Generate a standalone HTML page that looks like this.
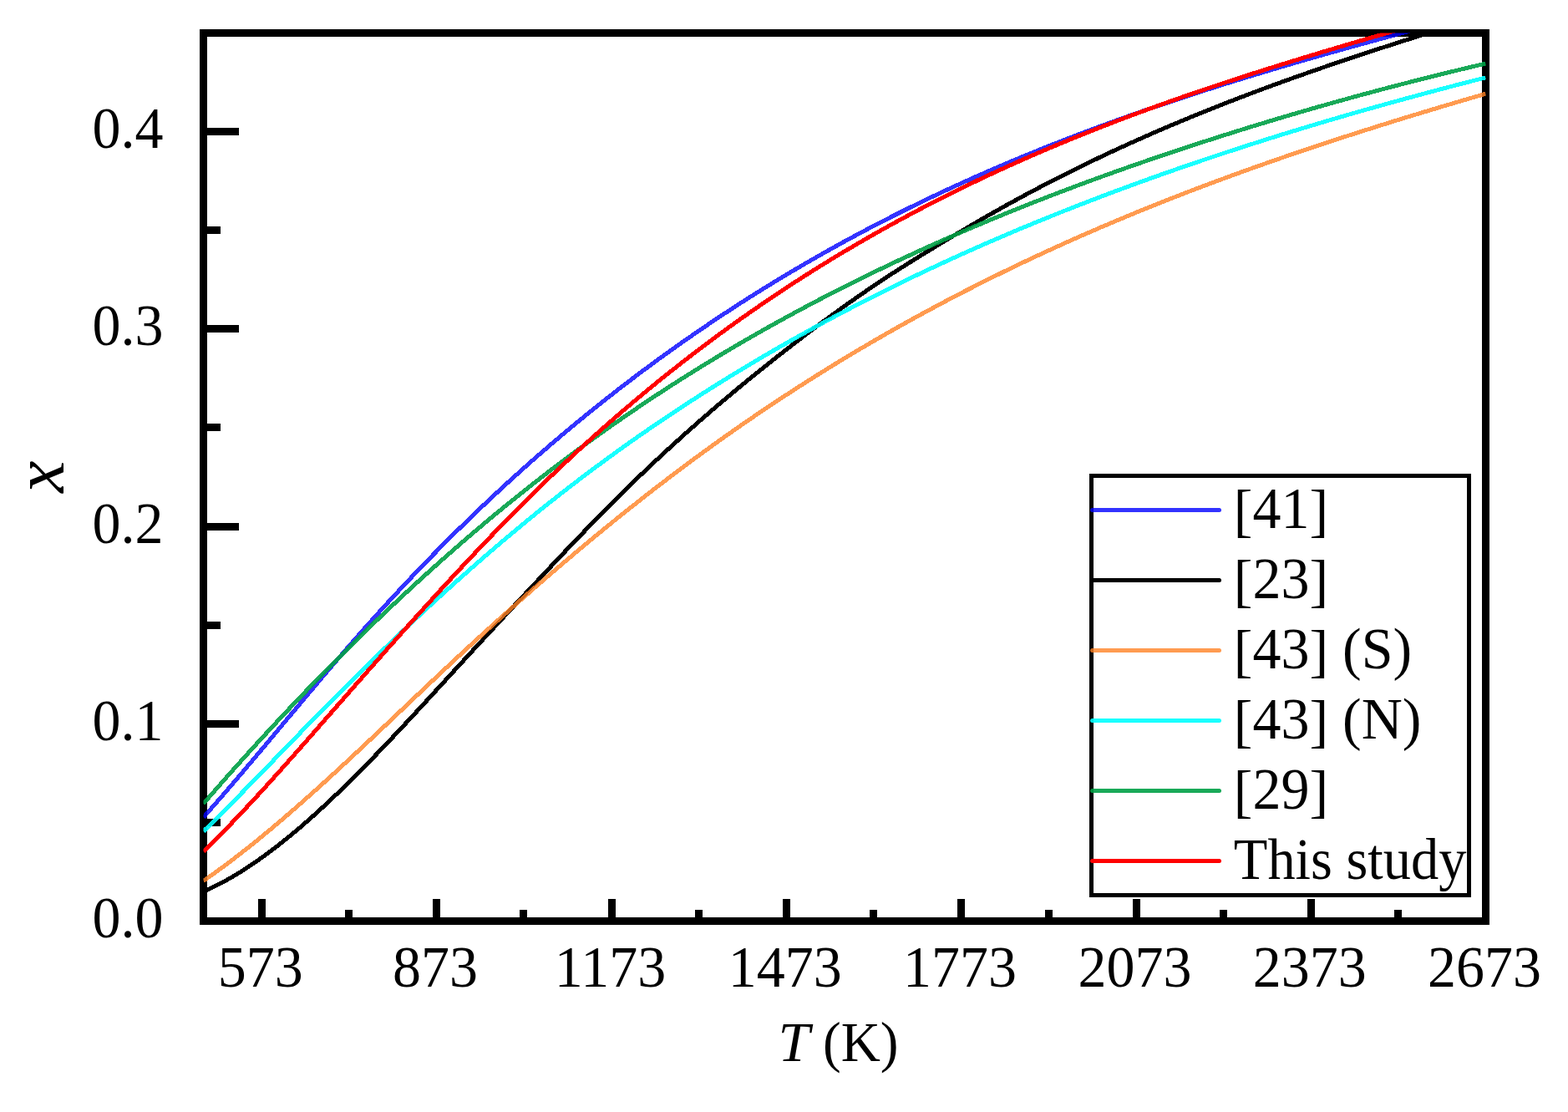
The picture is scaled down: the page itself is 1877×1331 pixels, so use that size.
<!DOCTYPE html>
<html><head><meta charset="utf-8"><title>x vs T</title>
<style>
html,body{margin:0;padding:0;background:#fff;}
svg{display:block;}
text{font-family:"Liberation Serif","Times New Roman",serif;font-size:68px;fill:#000;}
</style></head>
<body>
<svg width="1877" height="1331" viewBox="0 0 1877 1331">
<defs><clipPath id="pc"><rect x="243.5" y="39.5" width="1535.0" height="1063.0"/></clipPath></defs>
<rect x="0" y="0" width="1877" height="1331" fill="#fff"/>
<g id="axes">
<rect x="243.5" y="39.5" width="1535.0" height="1063.0" fill="none" stroke="#000" stroke-width="9"/>
<g fill="#000">
<rect x="309" y="1076" width="9" height="24"/>
<rect x="518" y="1076" width="9" height="24"/>
<rect x="413" y="1089" width="9" height="11"/>
<rect x="728" y="1076" width="9" height="24"/>
<rect x="622" y="1089" width="9" height="11"/>
<rect x="937" y="1076" width="9" height="24"/>
<rect x="832" y="1089" width="9" height="11"/>
<rect x="1146" y="1076" width="9" height="24"/>
<rect x="1041" y="1089" width="9" height="11"/>
<rect x="1356" y="1076" width="9" height="24"/>
<rect x="1251" y="1089" width="9" height="11"/>
<rect x="1565" y="1076" width="9" height="24"/>
<rect x="1460" y="1089" width="9" height="11"/>
<rect x="1669" y="1089" width="9" height="11"/>
<rect x="246" y="980" width="18" height="9"/>
<rect x="246" y="862" width="40" height="9"/>
<rect x="246" y="744" width="18" height="9"/>
<rect x="246" y="626" width="40" height="9"/>
<rect x="246" y="507" width="18" height="9"/>
<rect x="246" y="389" width="40" height="9"/>
<rect x="246" y="271" width="18" height="9"/>
<rect x="246" y="153" width="40" height="9"/>
</g>
</g>
<g clip-path="url(#pc)" fill="none" stroke-width="5" stroke-linejoin="round" stroke-linecap="butt" shape-rendering="crispEdges">
<path d="M243.50,978.33 C248.83,972.33 254.17,966.26 259.50,960.14 C264.83,954.03 270.17,947.86 275.50,941.65 C280.83,935.44 286.17,929.19 291.50,922.90 C296.83,916.62 302.17,910.30 307.50,903.97 C312.83,897.63 318.17,891.28 323.50,884.91 C328.83,878.54 334.17,872.17 339.50,865.79 C344.83,859.41 350.17,853.03 355.50,846.66 C360.83,840.29 366.17,833.94 371.50,827.60 C376.83,821.26 382.17,814.94 387.50,808.65 C392.83,802.36 398.17,796.10 403.50,789.89 C408.83,783.67 414.17,777.49 419.50,771.36 C424.83,765.24 430.17,759.16 435.50,753.15 C440.83,747.13 446.17,741.17 451.50,735.27 C456.83,729.37 462.17,723.52 467.50,717.73 C472.83,711.94 478.17,706.20 483.50,700.52 C488.83,694.84 494.17,689.22 499.50,683.65 C504.83,678.08 510.17,672.56 515.50,667.09 C520.83,661.63 526.17,656.22 531.50,650.86 C536.83,645.50 542.17,640.19 547.50,634.94 C552.83,629.69 558.17,624.48 563.50,619.33 C568.83,614.18 574.17,609.08 579.50,604.02 C584.83,598.97 590.17,593.97 595.50,589.02 C600.83,584.07 606.17,579.16 611.50,574.31 C616.83,569.45 622.17,564.65 627.50,559.89 C632.83,555.13 638.17,550.42 643.50,545.75 C648.83,541.09 654.17,536.47 659.50,531.90 C664.83,527.33 670.17,522.80 675.50,518.32 C680.83,513.84 686.17,509.40 691.50,505.01 C696.83,500.62 702.17,496.27 707.50,491.97 C712.83,487.67 718.17,483.41 723.50,479.19 C728.83,474.97 734.17,470.80 739.50,466.67 C744.83,462.54 750.17,458.45 755.50,454.40 C760.83,450.35 766.17,446.34 771.50,442.37 C776.83,438.41 782.17,434.48 787.50,430.59 C792.83,426.70 798.17,422.86 803.50,419.05 C808.83,415.24 814.17,411.47 819.50,407.74 C824.83,404.00 830.17,400.31 835.50,396.65 C840.83,392.99 846.17,389.37 851.50,385.79 C856.83,382.21 862.17,378.66 867.50,375.15 C872.83,371.64 878.17,368.17 883.50,364.73 C888.83,361.29 894.17,357.89 899.50,354.52 C904.83,351.16 910.17,347.82 915.50,344.52 C920.83,341.23 926.17,337.96 931.50,334.73 C936.83,331.50 942.17,328.30 947.50,325.14 C952.83,321.98 958.17,318.85 963.50,315.75 C968.83,312.65 974.17,309.58 979.50,306.55 C984.83,303.52 990.17,300.51 995.50,297.54 C1000.83,294.57 1006.17,291.63 1011.50,288.72 C1016.83,285.81 1022.17,282.93 1027.50,280.09 C1032.83,277.24 1038.17,274.42 1043.50,271.63 C1048.83,268.84 1054.17,266.08 1059.50,263.35 C1064.83,260.62 1070.17,257.92 1075.50,255.24 C1080.83,252.57 1086.17,249.92 1091.50,247.30 C1096.83,244.68 1102.17,242.09 1107.50,239.53 C1112.83,236.96 1118.17,234.43 1123.50,231.91 C1128.83,229.40 1134.17,226.92 1139.50,224.46 C1144.83,222.00 1150.17,219.57 1155.50,217.16 C1160.83,214.75 1166.17,212.36 1171.50,210.01 C1176.83,207.65 1182.17,205.31 1187.50,203.00 C1192.83,200.69 1198.17,198.40 1203.50,196.14 C1208.83,193.87 1214.17,191.63 1219.50,189.41 C1224.83,187.20 1230.17,185.00 1235.50,182.83 C1240.83,180.65 1246.17,178.50 1251.50,176.37 C1256.83,174.24 1262.17,172.13 1267.50,170.04 C1272.83,167.95 1278.17,165.88 1283.50,163.84 C1288.83,161.79 1294.17,159.76 1299.50,157.75 C1304.83,155.74 1310.17,153.75 1315.50,151.78 C1320.83,149.81 1326.17,147.86 1331.50,145.93 C1336.83,144.00 1342.17,142.08 1347.50,140.18 C1352.83,138.29 1358.17,136.41 1363.50,134.54 C1368.83,132.68 1374.17,130.84 1379.50,129.01 C1384.83,127.18 1390.17,125.36 1395.50,123.57 C1400.83,121.77 1406.17,119.99 1411.50,118.22 C1416.83,116.45 1422.17,114.70 1427.50,112.97 C1432.83,111.23 1438.17,109.51 1443.50,107.80 C1448.83,106.09 1454.17,104.40 1459.50,102.71 C1464.83,101.03 1470.17,99.36 1475.50,97.71 C1480.83,96.05 1486.17,94.41 1491.50,92.78 C1496.83,91.15 1502.17,89.53 1507.50,87.92 C1512.83,86.32 1518.17,84.72 1523.50,83.14 C1528.83,81.55 1534.17,79.98 1539.50,78.41 C1544.83,76.85 1550.17,75.29 1555.50,73.75 C1560.83,72.20 1566.17,70.67 1571.50,69.14 C1576.83,67.62 1582.17,66.10 1587.50,64.59 C1592.83,63.08 1598.17,61.58 1603.50,60.09 C1608.83,58.60 1614.17,57.11 1619.50,55.63 C1624.83,54.16 1630.17,52.69 1635.50,51.22 C1640.83,49.76 1646.17,48.30 1651.50,46.85 C1656.83,45.39 1662.17,43.95 1667.50,42.51 C1672.83,41.07 1678.17,39.63 1683.50,38.20 C1688.83,36.77 1694.17,35.34 1699.50,33.92 C1704.83,32.50 1710.17,31.08 1715.50,29.66 C1720.83,28.25 1726.17,26.83 1731.50,25.42 C1736.83,24.02 1742.17,22.61 1747.50,21.20 C1751.67,20.11 1755.83,19.01 1760.00,17.92" stroke="#0000ff" stroke-opacity="0.8"/>
<path d="M243.50,1066.96 C248.83,1064.75 254.17,1062.31 259.50,1059.66 C264.83,1057.01 270.17,1054.15 275.50,1051.10 C280.83,1048.05 286.17,1044.81 291.50,1041.40 C296.83,1038.00 302.17,1034.43 307.50,1030.71 C312.83,1026.99 318.17,1023.13 323.50,1019.13 C328.83,1015.13 334.17,1010.99 339.50,1006.72 C344.83,1002.45 350.17,998.06 355.50,993.55 C360.83,989.03 366.17,984.41 371.50,979.67 C376.83,974.94 382.17,970.10 387.50,965.16 C392.83,960.22 398.17,955.19 403.50,950.07 C408.83,944.95 414.17,939.75 419.50,934.47 C424.83,929.19 430.17,923.84 435.50,918.42 C440.83,913.00 446.17,907.51 451.50,901.97 C456.83,896.44 462.17,890.84 467.50,885.21 C472.83,879.57 478.17,873.89 483.50,868.18 C488.83,862.46 494.17,856.72 499.50,850.95 C504.83,845.17 510.17,839.38 515.50,833.58 C520.83,827.77 526.17,821.95 531.50,816.13 C536.83,810.31 542.17,804.49 547.50,798.67 C552.83,792.86 558.17,787.05 563.50,781.26 C568.83,775.46 574.17,769.67 579.50,763.89 C584.83,758.11 590.17,752.35 595.50,746.59 C600.83,740.83 606.17,735.08 611.50,729.34 C616.83,723.61 622.17,717.88 627.50,712.17 C632.83,706.45 638.17,700.75 643.50,695.06 C648.83,689.36 654.17,683.68 659.50,678.02 C664.83,672.36 670.17,666.71 675.50,661.09 C680.83,655.47 686.17,649.87 691.50,644.31 C696.83,638.74 702.17,633.21 707.50,627.72 C712.83,622.23 718.17,616.77 723.50,611.37 C728.83,605.96 734.17,600.60 739.50,595.30 C744.83,590.00 750.17,584.75 755.50,579.56 C760.83,574.37 766.17,569.23 771.50,564.15 C776.83,559.07 782.17,554.05 787.50,549.07 C792.83,544.10 798.17,539.17 803.50,534.30 C808.83,529.43 814.17,524.61 819.50,519.84 C824.83,515.06 830.17,510.34 835.50,505.66 C840.83,500.98 846.17,496.35 851.50,491.76 C856.83,487.17 862.17,482.63 867.50,478.13 C872.83,473.63 878.17,469.17 883.50,464.76 C888.83,460.34 894.17,455.96 899.50,451.63 C904.83,447.29 910.17,442.99 915.50,438.73 C920.83,434.47 926.17,430.25 931.50,426.06 C936.83,421.87 942.17,417.71 947.50,413.59 C952.83,409.47 958.17,405.39 963.50,401.34 C968.83,397.29 974.17,393.27 979.50,389.30 C984.83,385.32 990.17,381.39 995.50,377.50 C1000.83,373.61 1006.17,369.76 1011.50,365.95 C1016.83,362.15 1022.17,358.39 1027.50,354.68 C1032.83,350.97 1038.17,347.31 1043.50,343.69 C1048.83,340.08 1054.17,336.52 1059.50,333.02 C1064.83,329.51 1070.17,326.06 1075.50,322.65 C1080.83,319.25 1086.17,315.89 1091.50,312.57 C1096.83,309.25 1102.17,305.96 1107.50,302.70 C1112.83,299.44 1118.17,296.20 1123.50,292.98 C1128.83,289.76 1134.17,286.55 1139.50,283.36 C1144.83,280.18 1150.17,277.01 1155.50,273.87 C1160.83,270.73 1166.17,267.61 1171.50,264.52 C1176.83,261.43 1182.17,258.37 1187.50,255.34 C1192.83,252.32 1198.17,249.32 1203.50,246.36 C1208.83,243.39 1214.17,240.47 1219.50,237.57 C1224.83,234.67 1230.17,231.81 1235.50,228.98 C1240.83,226.15 1246.17,223.35 1251.50,220.58 C1256.83,217.81 1262.17,215.07 1267.50,212.36 C1272.83,209.65 1278.17,206.97 1283.50,204.33 C1288.83,201.68 1294.17,199.06 1299.50,196.47 C1304.83,193.88 1310.17,191.31 1315.50,188.78 C1320.83,186.24 1326.17,183.74 1331.50,181.26 C1336.83,178.78 1342.17,176.32 1347.50,173.89 C1352.83,171.47 1358.17,169.07 1363.50,166.69 C1368.83,164.31 1374.17,161.96 1379.50,159.64 C1384.83,157.31 1390.17,155.01 1395.50,152.73 C1400.83,150.45 1406.17,148.20 1411.50,145.96 C1416.83,143.73 1422.17,141.52 1427.50,139.34 C1432.83,137.15 1438.17,134.98 1443.50,132.84 C1448.83,130.69 1454.17,128.57 1459.50,126.47 C1464.83,124.37 1470.17,122.28 1475.50,120.22 C1480.83,118.16 1486.17,116.11 1491.50,114.09 C1496.83,112.06 1502.17,110.06 1507.50,108.07 C1512.83,106.08 1518.17,104.11 1523.50,102.16 C1528.83,100.20 1534.17,98.27 1539.50,96.35 C1544.83,94.43 1550.17,92.52 1555.50,90.64 C1560.83,88.75 1566.17,86.87 1571.50,85.02 C1576.83,83.16 1582.17,81.31 1587.50,79.48 C1592.83,77.65 1598.17,75.84 1603.50,74.03 C1608.83,72.23 1614.17,70.44 1619.50,68.66 C1624.83,66.88 1630.17,65.12 1635.50,63.36 C1640.83,61.61 1646.17,59.87 1651.50,58.13 C1656.83,56.40 1662.17,54.68 1667.50,52.96 C1672.83,51.25 1678.17,49.55 1683.50,47.85 C1688.83,46.16 1694.17,44.48 1699.50,42.80 C1704.83,41.12 1710.17,39.45 1715.50,37.79 C1720.83,36.13 1726.17,34.47 1731.50,32.83 C1736.83,31.18 1742.17,29.54 1747.50,27.90 C1752.83,26.26 1758.17,24.63 1763.50,23.01 C1768.83,21.38 1774.17,19.76 1779.50,18.14 C1779.67,18.09 1779.83,18.04 1780.00,17.99" stroke="#000000"/>
<path d="M243.50,1054.35 C248.83,1050.67 254.17,1046.90 259.50,1043.04 C264.83,1039.18 270.17,1035.23 275.50,1031.20 C280.83,1027.17 286.17,1023.07 291.50,1018.89 C296.83,1014.71 302.17,1010.45 307.50,1006.13 C312.83,1001.80 318.17,997.41 323.50,992.96 C328.83,988.51 334.17,984.00 339.50,979.43 C344.83,974.86 350.17,970.24 355.50,965.56 C360.83,960.89 366.17,956.17 371.50,951.40 C376.83,946.64 382.17,941.83 387.50,936.99 C392.83,932.14 398.17,927.26 403.50,922.35 C408.83,917.44 414.17,912.50 419.50,907.53 C424.83,902.57 430.17,897.58 435.50,892.57 C440.83,887.56 446.17,882.54 451.50,877.50 C456.83,872.46 462.17,867.41 467.50,862.36 C472.83,857.30 478.17,852.24 483.50,847.18 C488.83,842.12 494.17,837.06 499.50,832.01 C504.83,826.96 510.17,821.91 515.50,816.88 C520.83,811.85 526.17,806.83 531.50,801.83 C536.83,796.83 542.17,791.85 547.50,786.89 C552.83,781.94 558.17,777.01 563.50,772.10 C568.83,767.20 574.17,762.31 579.50,757.46 C584.83,752.60 590.17,747.77 595.50,742.97 C600.83,738.16 606.17,733.38 611.50,728.63 C616.83,723.87 622.17,719.15 627.50,714.45 C632.83,709.75 638.17,705.07 643.50,700.43 C648.83,695.78 654.17,691.17 659.50,686.57 C664.83,681.98 670.17,677.42 675.50,672.89 C680.83,668.35 686.17,663.85 691.50,659.37 C696.83,654.89 702.17,650.45 707.50,646.03 C712.83,641.61 718.17,637.22 723.50,632.86 C728.83,628.50 734.17,624.17 739.50,619.87 C744.83,615.58 750.17,611.31 755.50,607.07 C760.83,602.83 766.17,598.63 771.50,594.45 C776.83,590.28 782.17,586.14 787.50,582.02 C792.83,577.91 798.17,573.83 803.50,569.79 C808.83,565.74 814.17,561.73 819.50,557.75 C824.83,553.77 830.17,549.82 835.50,545.91 C840.83,541.99 846.17,538.11 851.50,534.27 C856.83,530.42 862.17,526.61 867.50,522.83 C872.83,519.05 878.17,515.30 883.50,511.59 C888.83,507.88 894.17,504.20 899.50,500.55 C904.83,496.90 910.17,493.28 915.50,489.70 C920.83,486.12 926.17,482.56 931.50,479.04 C936.83,475.52 942.17,472.03 947.50,468.58 C952.83,465.12 958.17,461.69 963.50,458.29 C968.83,454.89 974.17,451.53 979.50,448.19 C984.83,444.85 990.17,441.55 995.50,438.27 C1000.83,434.99 1006.17,431.74 1011.50,428.52 C1016.83,425.30 1022.17,422.11 1027.50,418.95 C1032.83,415.79 1038.17,412.66 1043.50,409.55 C1048.83,406.45 1054.17,403.37 1059.50,400.32 C1064.83,397.27 1070.17,394.25 1075.50,391.25 C1080.83,388.26 1086.17,385.29 1091.50,382.35 C1096.83,379.40 1102.17,376.49 1107.50,373.60 C1112.83,370.71 1118.17,367.85 1123.50,365.01 C1128.83,362.17 1134.17,359.36 1139.50,356.57 C1144.83,353.79 1150.17,351.03 1155.50,348.29 C1160.83,345.55 1166.17,342.84 1171.50,340.15 C1176.83,337.46 1182.17,334.80 1187.50,332.16 C1192.83,329.52 1198.17,326.90 1203.50,324.31 C1208.83,321.71 1214.17,319.14 1219.50,316.59 C1224.83,314.05 1230.17,311.52 1235.50,309.02 C1240.83,306.52 1246.17,304.03 1251.50,301.58 C1256.83,299.12 1262.17,296.68 1267.50,294.26 C1272.83,291.85 1278.17,289.45 1283.50,287.08 C1288.83,284.71 1294.17,282.35 1299.50,280.02 C1304.83,277.69 1310.17,275.37 1315.50,273.08 C1320.83,270.79 1326.17,268.52 1331.50,266.26 C1336.83,264.01 1342.17,261.78 1347.50,259.56 C1352.83,257.34 1358.17,255.15 1363.50,252.97 C1368.83,250.79 1374.17,248.63 1379.50,246.49 C1384.83,244.35 1390.17,242.22 1395.50,240.12 C1400.83,238.01 1406.17,235.92 1411.50,233.85 C1416.83,231.78 1422.17,229.72 1427.50,227.68 C1432.83,225.65 1438.17,223.62 1443.50,221.62 C1448.83,219.61 1454.17,217.62 1459.50,215.65 C1464.83,213.67 1470.17,211.71 1475.50,209.77 C1480.83,207.82 1486.17,205.89 1491.50,203.98 C1496.83,202.07 1502.17,200.17 1507.50,198.28 C1512.83,196.39 1518.17,194.52 1523.50,192.66 C1528.83,190.80 1534.17,188.96 1539.50,187.13 C1544.83,185.30 1550.17,183.48 1555.50,181.67 C1560.83,179.87 1566.17,178.07 1571.50,176.29 C1576.83,174.51 1582.17,172.74 1587.50,170.98 C1592.83,169.23 1598.17,167.48 1603.50,165.74 C1608.83,164.01 1614.17,162.29 1619.50,160.57 C1624.83,158.86 1630.17,157.16 1635.50,155.47 C1640.83,153.78 1646.17,152.09 1651.50,150.42 C1656.83,148.75 1662.17,147.09 1667.50,145.43 C1672.83,143.78 1678.17,142.14 1683.50,140.50 C1688.83,138.87 1694.17,137.24 1699.50,135.62 C1704.83,134.01 1710.17,132.40 1715.50,130.80 C1720.83,129.19 1726.17,127.60 1731.50,126.01 C1736.83,124.43 1742.17,122.85 1747.50,121.28 C1752.83,119.70 1758.17,118.14 1763.50,116.58 C1768.50,115.12 1773.50,113.66 1778.50,112.21" stroke="#ff8224" stroke-opacity="0.8"/>
<path d="M243.50,995.01 C248.83,989.81 254.17,984.55 259.50,979.26 C264.83,973.96 270.17,968.61 275.50,963.24 C280.83,957.86 286.17,952.45 291.50,947.01 C296.83,941.58 302.17,936.12 307.50,930.64 C312.83,925.16 318.17,919.66 323.50,914.16 C328.83,908.66 334.17,903.15 339.50,897.64 C344.83,892.13 350.17,886.63 355.50,881.13 C360.83,875.64 366.17,870.15 371.50,864.69 C376.83,859.22 382.17,853.78 387.50,848.36 C392.83,842.95 398.17,837.56 403.50,832.20 C408.83,826.83 414.17,821.50 419.50,816.20 C424.83,810.90 430.17,805.62 435.50,800.38 C440.83,795.13 446.17,789.92 451.50,784.74 C456.83,779.55 462.17,774.40 467.50,769.28 C472.83,764.16 478.17,759.07 483.50,754.02 C488.83,748.96 494.17,743.94 499.50,738.95 C504.83,733.96 510.17,729.01 515.50,724.09 C520.83,719.16 526.17,714.28 531.50,709.43 C536.83,704.58 542.17,699.76 547.50,694.98 C552.83,690.20 558.17,685.46 563.50,680.76 C568.83,676.05 574.17,671.38 579.50,666.75 C584.83,662.12 590.17,657.53 595.50,652.98 C600.83,648.43 606.17,643.91 611.50,639.44 C616.83,634.96 622.17,630.53 627.50,626.14 C632.83,621.74 638.17,617.39 643.50,613.08 C648.83,608.77 654.17,604.50 659.50,600.27 C664.83,596.05 670.17,591.86 675.50,587.71 C680.83,583.57 686.17,579.46 691.50,575.40 C696.83,571.33 702.17,567.30 707.50,563.31 C712.83,559.33 718.17,555.38 723.50,551.46 C728.83,547.55 734.17,543.68 739.50,539.84 C744.83,536.01 750.17,532.21 755.50,528.44 C760.83,524.68 766.17,520.95 771.50,517.26 C776.83,513.57 782.17,509.91 787.50,506.29 C792.83,502.67 798.17,499.08 803.50,495.53 C808.83,491.97 814.17,488.45 819.50,484.97 C824.83,481.48 830.17,478.03 835.50,474.61 C840.83,471.19 846.17,467.80 851.50,464.44 C856.83,461.08 862.17,457.76 867.50,454.46 C872.83,451.17 878.17,447.90 883.50,444.67 C888.83,441.43 894.17,438.23 899.50,435.05 C904.83,431.87 910.17,428.73 915.50,425.61 C920.83,422.49 926.17,419.40 931.50,416.33 C936.83,413.27 942.17,410.24 947.50,407.23 C952.83,404.22 958.17,401.23 963.50,398.28 C968.83,395.32 974.17,392.39 979.50,389.49 C984.83,386.58 990.17,383.71 995.50,380.85 C1000.83,378.00 1006.17,375.17 1011.50,372.37 C1016.83,369.57 1022.17,366.79 1027.50,364.04 C1032.83,361.28 1038.17,358.55 1043.50,355.85 C1048.83,353.14 1054.17,350.46 1059.50,347.80 C1064.83,345.15 1070.17,342.51 1075.50,339.90 C1080.83,337.29 1086.17,334.70 1091.50,332.13 C1096.83,329.57 1102.17,327.02 1107.50,324.50 C1112.83,321.98 1118.17,319.48 1123.50,317.00 C1128.83,314.53 1134.17,312.07 1139.50,309.64 C1144.83,307.20 1150.17,304.79 1155.50,302.39 C1160.83,300.00 1166.17,297.63 1171.50,295.27 C1176.83,292.92 1182.17,290.59 1187.50,288.28 C1192.83,285.96 1198.17,283.67 1203.50,281.40 C1208.83,279.12 1214.17,276.87 1219.50,274.63 C1224.83,272.40 1230.17,270.18 1235.50,267.98 C1240.83,265.78 1246.17,263.60 1251.50,261.44 C1256.83,259.28 1262.17,257.13 1267.50,255.00 C1272.83,252.88 1278.17,250.77 1283.50,248.67 C1288.83,246.58 1294.17,244.50 1299.50,242.44 C1304.83,240.38 1310.17,238.34 1315.50,236.31 C1320.83,234.28 1326.17,232.27 1331.50,230.27 C1336.83,228.28 1342.17,226.30 1347.50,224.33 C1352.83,222.36 1358.17,220.41 1363.50,218.48 C1368.83,216.54 1374.17,214.62 1379.50,212.71 C1384.83,210.81 1390.17,208.91 1395.50,207.04 C1400.83,205.16 1406.17,203.29 1411.50,201.44 C1416.83,199.59 1422.17,197.76 1427.50,195.93 C1432.83,194.11 1438.17,192.30 1443.50,190.51 C1448.83,188.71 1454.17,186.93 1459.50,185.16 C1464.83,183.39 1470.17,181.64 1475.50,179.89 C1480.83,178.15 1486.17,176.42 1491.50,174.70 C1496.83,172.98 1502.17,171.28 1507.50,169.59 C1512.83,167.89 1518.17,166.21 1523.50,164.54 C1528.83,162.88 1534.17,161.22 1539.50,159.57 C1544.83,157.93 1550.17,156.30 1555.50,154.68 C1560.83,153.05 1566.17,151.44 1571.50,149.85 C1576.83,148.25 1582.17,146.66 1587.50,145.08 C1592.83,143.51 1598.17,141.94 1603.50,140.38 C1608.83,138.83 1614.17,137.29 1619.50,135.75 C1624.83,134.22 1630.17,132.69 1635.50,131.18 C1640.83,129.67 1646.17,128.16 1651.50,126.67 C1656.83,125.18 1662.17,123.69 1667.50,122.22 C1672.83,120.74 1678.17,119.28 1683.50,117.83 C1688.83,116.37 1694.17,114.92 1699.50,113.49 C1704.83,112.05 1710.17,110.62 1715.50,109.20 C1720.83,107.78 1726.17,106.37 1731.50,104.97 C1736.83,103.57 1742.17,102.18 1747.50,100.79 C1752.83,99.41 1758.17,98.03 1763.50,96.66 C1768.50,95.38 1773.50,94.10 1778.50,92.83" stroke="#00ffff" stroke-opacity="0.9"/>
<path d="M243.50,961.93 C248.83,955.78 254.17,949.67 259.50,943.59 C264.83,937.51 270.17,931.48 275.50,925.48 C280.83,919.49 286.17,913.53 291.50,907.61 C296.83,901.69 302.17,895.82 307.50,889.98 C312.83,884.14 318.17,878.34 323.50,872.58 C328.83,866.82 334.17,861.10 339.50,855.42 C344.83,849.74 350.17,844.10 355.50,838.50 C360.83,832.90 366.17,827.34 371.50,821.82 C376.83,816.30 382.17,810.82 387.50,805.37 C392.83,799.93 398.17,794.53 403.50,789.17 C408.83,783.81 414.17,778.48 419.50,773.20 C424.83,767.92 430.17,762.68 435.50,757.48 C440.83,752.27 446.17,747.11 451.50,741.99 C456.83,736.87 462.17,731.78 467.50,726.74 C472.83,721.70 478.17,716.70 483.50,711.73 C488.83,706.77 494.17,701.85 499.50,696.97 C504.83,692.08 510.17,687.24 515.50,682.44 C520.83,677.64 526.17,672.88 531.50,668.15 C536.83,663.43 542.17,658.75 547.50,654.11 C552.83,649.47 558.17,644.87 563.50,640.31 C568.83,635.75 574.17,631.23 579.50,626.75 C584.83,622.27 590.17,617.83 595.50,613.43 C600.83,609.03 606.17,604.67 611.50,600.35 C616.83,596.03 622.17,591.76 627.50,587.52 C632.83,583.28 638.17,579.08 643.50,574.93 C648.83,570.77 654.17,566.65 659.50,562.57 C664.83,558.50 670.17,554.46 675.50,550.45 C680.83,546.45 686.17,542.49 691.50,538.57 C696.83,534.64 702.17,530.75 707.50,526.90 C712.83,523.05 718.17,519.24 723.50,515.46 C728.83,511.68 734.17,507.94 739.50,504.24 C744.83,500.53 750.17,496.86 755.50,493.23 C760.83,489.59 766.17,485.99 771.50,482.43 C776.83,478.86 782.17,475.33 787.50,471.84 C792.83,468.34 798.17,464.88 803.50,461.45 C808.83,458.02 814.17,454.62 819.50,451.25 C824.83,447.89 830.17,444.55 835.50,441.25 C840.83,437.95 846.17,434.68 851.50,431.44 C856.83,428.21 862.17,425.00 867.50,421.82 C872.83,418.64 878.17,415.50 883.50,412.38 C888.83,409.26 894.17,406.17 899.50,403.11 C904.83,400.06 910.17,397.03 915.50,394.02 C920.83,391.02 926.17,388.05 931.50,385.10 C936.83,382.16 942.17,379.24 947.50,376.35 C952.83,373.46 958.17,370.59 963.50,367.76 C968.83,364.92 974.17,362.11 979.50,359.32 C984.83,356.54 990.17,353.78 995.50,351.04 C1000.83,348.30 1006.17,345.59 1011.50,342.91 C1016.83,340.22 1022.17,337.56 1027.50,334.92 C1032.83,332.28 1038.17,329.67 1043.50,327.08 C1048.83,324.48 1054.17,321.92 1059.50,319.37 C1064.83,316.82 1070.17,314.30 1075.50,311.80 C1080.83,309.30 1086.17,306.82 1091.50,304.36 C1096.83,301.90 1102.17,299.47 1107.50,297.05 C1112.83,294.64 1118.17,292.24 1123.50,289.87 C1128.83,287.50 1134.17,285.15 1139.50,282.81 C1144.83,280.48 1150.17,278.17 1155.50,275.88 C1160.83,273.59 1166.17,271.32 1171.50,269.06 C1176.83,266.81 1182.17,264.58 1187.50,262.36 C1192.83,260.15 1198.17,257.96 1203.50,255.78 C1208.83,253.60 1214.17,251.44 1219.50,249.30 C1224.83,247.16 1230.17,245.04 1235.50,242.94 C1240.83,240.83 1246.17,238.75 1251.50,236.68 C1256.83,234.61 1262.17,232.56 1267.50,230.52 C1272.83,228.49 1278.17,226.47 1283.50,224.46 C1288.83,222.46 1294.17,220.48 1299.50,218.51 C1304.83,216.53 1310.17,214.58 1315.50,212.64 C1320.83,210.70 1326.17,208.78 1331.50,206.87 C1336.83,204.96 1342.17,203.07 1347.50,201.19 C1352.83,199.31 1358.17,197.44 1363.50,195.59 C1368.83,193.74 1374.17,191.90 1379.50,190.08 C1384.83,188.25 1390.17,186.44 1395.50,184.65 C1400.83,182.85 1406.17,181.07 1411.50,179.30 C1416.83,177.52 1422.17,175.77 1427.50,174.02 C1432.83,172.27 1438.17,170.54 1443.50,168.82 C1448.83,167.10 1454.17,165.39 1459.50,163.69 C1464.83,161.99 1470.17,160.31 1475.50,158.64 C1480.83,156.96 1486.17,155.30 1491.50,153.65 C1496.83,152.01 1502.17,150.37 1507.50,148.74 C1512.83,147.12 1518.17,145.51 1523.50,143.91 C1528.83,142.31 1534.17,140.72 1539.50,139.14 C1544.83,137.56 1550.17,136.00 1555.50,134.44 C1560.83,132.89 1566.17,131.35 1571.50,129.82 C1576.83,128.29 1582.17,126.77 1587.50,125.26 C1592.83,123.75 1598.17,122.26 1603.50,120.77 C1608.83,119.29 1614.17,117.82 1619.50,116.35 C1624.83,114.89 1630.17,113.44 1635.50,112.00 C1640.83,110.56 1646.17,109.14 1651.50,107.72 C1656.83,106.30 1662.17,104.90 1667.50,103.50 C1672.83,102.11 1678.17,100.72 1683.50,99.35 C1688.83,97.98 1694.17,96.62 1699.50,95.27 C1704.83,93.92 1710.17,92.58 1715.50,91.25 C1720.83,89.92 1726.17,88.60 1731.50,87.29 C1736.83,85.98 1742.17,84.69 1747.50,83.40 C1752.83,82.11 1758.17,80.84 1763.50,79.57 C1768.50,78.39 1773.50,77.21 1778.50,76.04" stroke="#00a046" stroke-opacity="0.9"/>
<path d="M243.50,1019.12 C248.83,1013.98 254.17,1008.74 259.50,1003.40 C264.83,998.06 270.17,992.63 275.50,987.11 C280.83,981.60 286.17,976.00 291.50,970.33 C296.83,964.67 302.17,958.93 307.50,953.13 C312.83,947.34 318.17,941.48 323.50,935.58 C328.83,929.68 334.17,923.73 339.50,917.75 C344.83,911.77 350.17,905.75 355.50,899.71 C360.83,893.67 366.17,887.60 371.50,881.53 C376.83,875.45 382.17,869.37 387.50,863.28 C392.83,857.19 398.17,851.11 403.50,845.03 C408.83,838.95 414.17,832.87 419.50,826.81 C424.83,820.74 430.17,814.68 435.50,808.63 C440.83,802.58 446.17,796.55 451.50,790.53 C456.83,784.51 462.17,778.50 467.50,772.51 C472.83,766.52 478.17,760.55 483.50,754.59 C488.83,748.64 494.17,742.71 499.50,736.81 C504.83,730.90 510.17,725.02 515.50,719.16 C520.83,713.31 526.17,707.48 531.50,701.68 C536.83,695.88 542.17,690.11 547.50,684.38 C552.83,678.64 558.17,672.94 563.50,667.28 C568.83,661.61 574.17,655.98 579.50,650.40 C584.83,644.81 590.17,639.26 595.50,633.75 C600.83,628.25 606.17,622.78 611.50,617.37 C616.83,611.95 622.17,606.58 627.50,601.26 C632.83,595.94 638.17,590.66 643.50,585.44 C648.83,580.22 654.17,575.06 659.50,569.94 C664.83,564.83 670.17,559.77 675.50,554.76 C680.83,549.75 686.17,544.79 691.50,539.88 C696.83,534.97 702.17,530.12 707.50,525.31 C712.83,520.50 718.17,515.75 723.50,511.04 C728.83,506.34 734.17,501.68 739.50,497.07 C744.83,492.46 750.17,487.91 755.50,483.39 C760.83,478.88 766.17,474.42 771.50,470.00 C776.83,465.59 782.17,461.22 787.50,456.90 C792.83,452.57 798.17,448.30 803.50,444.07 C808.83,439.84 814.17,435.65 819.50,431.51 C824.83,427.37 830.17,423.28 835.50,419.23 C840.83,415.18 846.17,411.17 851.50,407.21 C856.83,403.24 862.17,399.32 867.50,395.45 C872.83,391.57 878.17,387.73 883.50,383.94 C888.83,380.15 894.17,376.40 899.50,372.69 C904.83,368.98 910.17,365.31 915.50,361.68 C920.83,358.05 926.17,354.46 931.50,350.91 C936.83,347.37 942.17,343.86 947.50,340.39 C952.83,336.92 958.17,333.48 963.50,330.09 C968.83,326.70 974.17,323.34 979.50,320.02 C984.83,316.70 990.17,313.42 995.50,310.18 C1000.83,306.93 1006.17,303.72 1011.50,300.55 C1016.83,297.38 1022.17,294.24 1027.50,291.14 C1032.83,288.04 1038.17,284.97 1043.50,281.94 C1048.83,278.90 1054.17,275.91 1059.50,272.94 C1064.83,269.98 1070.17,267.04 1075.50,264.14 C1080.83,261.24 1086.17,258.38 1091.50,255.54 C1096.83,252.71 1102.17,249.91 1107.50,247.13 C1112.83,244.36 1118.17,241.62 1123.50,238.91 C1128.83,236.20 1134.17,233.52 1139.50,230.87 C1144.83,228.22 1150.17,225.60 1155.50,223.01 C1160.83,220.41 1166.17,217.85 1171.50,215.31 C1176.83,212.78 1182.17,210.27 1187.50,207.79 C1192.83,205.31 1198.17,202.86 1203.50,200.43 C1208.83,198.01 1214.17,195.61 1219.50,193.23 C1224.83,190.86 1230.17,188.51 1235.50,186.19 C1240.83,183.86 1246.17,181.56 1251.50,179.29 C1256.83,177.02 1262.17,174.76 1267.50,172.54 C1272.83,170.31 1278.17,168.11 1283.50,165.93 C1288.83,163.75 1294.17,161.59 1299.50,159.45 C1304.83,157.32 1310.17,155.20 1315.50,153.11 C1320.83,151.02 1326.17,148.95 1331.50,146.89 C1336.83,144.84 1342.17,142.81 1347.50,140.80 C1352.83,138.79 1358.17,136.80 1363.50,134.82 C1368.83,132.85 1374.17,130.90 1379.50,128.96 C1384.83,127.02 1390.17,125.11 1395.50,123.20 C1400.83,121.30 1406.17,119.42 1411.50,117.55 C1416.83,115.69 1422.17,113.84 1427.50,112.00 C1432.83,110.17 1438.17,108.35 1443.50,106.54 C1448.83,104.74 1454.17,102.95 1459.50,101.18 C1464.83,99.40 1470.17,97.64 1475.50,95.89 C1480.83,94.15 1486.17,92.41 1491.50,90.69 C1496.83,88.97 1502.17,87.26 1507.50,85.57 C1512.83,83.87 1518.17,82.18 1523.50,80.51 C1528.83,78.84 1534.17,77.18 1539.50,75.52 C1544.83,73.87 1550.17,72.23 1555.50,70.60 C1560.83,68.97 1566.17,67.35 1571.50,65.73 C1576.83,64.12 1582.17,62.52 1587.50,60.92 C1592.83,59.32 1598.17,57.74 1603.50,56.15 C1608.83,54.57 1614.17,53.00 1619.50,51.43 C1624.83,49.87 1630.17,48.31 1635.50,46.75 C1640.83,45.20 1646.17,43.65 1651.50,42.11 C1656.83,40.56 1662.17,39.02 1667.50,37.49 C1672.83,35.95 1678.17,34.42 1683.50,32.90 C1688.83,31.37 1694.17,29.85 1699.50,28.33 C1704.83,26.81 1710.17,25.29 1715.50,23.77 C1720.83,22.26 1726.17,20.74 1731.50,19.23 C1734.33,18.43 1737.17,17.62 1740.00,16.82" stroke="#ff0000"/>
</g>
<rect x="1306.5" y="569.5" width="452" height="502" fill="#fff" stroke="#000" stroke-width="5"/>
<line x1="1307.5" y1="610.5" x2="1459.5" y2="610.5" stroke="#0000ff" stroke-opacity="0.8" stroke-width="5" stroke-linecap="round"/>
<text transform="translate(1476.8,632.1) scale(1,1.025)" xml:space="preserve"><tspan dy="3">[</tspan><tspan dy="-3">41</tspan><tspan dy="3">]</tspan></text>
<line x1="1307.5" y1="694.5" x2="1459.5" y2="694.5" stroke="#000000" stroke-width="5" stroke-linecap="round"/>
<text transform="translate(1476.8,716.1) scale(1,1.025)" xml:space="preserve"><tspan dy="3">[</tspan><tspan dy="-3">23</tspan><tspan dy="3">]</tspan></text>
<line x1="1307.5" y1="778.5" x2="1459.5" y2="778.5" stroke="#ff8224" stroke-opacity="0.8" stroke-width="5" stroke-linecap="round"/>
<text transform="translate(1476.8,800.1) scale(1,1.025)" xml:space="preserve"><tspan dy="3">[</tspan><tspan dy="-3">43</tspan><tspan dy="3">]</tspan><tspan dy="-3"> (S)</tspan></text>
<line x1="1307.5" y1="862.5" x2="1459.5" y2="862.5" stroke="#00ffff" stroke-opacity="0.9" stroke-width="5" stroke-linecap="round"/>
<text transform="translate(1476.8,884.1) scale(1,1.025)" xml:space="preserve"><tspan dy="3">[</tspan><tspan dy="-3">43</tspan><tspan dy="3">]</tspan><tspan dy="-3"> (N)</tspan></text>
<line x1="1307.5" y1="946.5" x2="1459.5" y2="946.5" stroke="#00a046" stroke-opacity="0.9" stroke-width="5" stroke-linecap="round"/>
<text transform="translate(1476.8,968.1) scale(1,1.025)" xml:space="preserve"><tspan dy="3">[</tspan><tspan dy="-3">29</tspan><tspan dy="3">]</tspan></text>
<line x1="1307.5" y1="1030.5" x2="1459.5" y2="1030.5" stroke="#ff0000" stroke-width="5" stroke-linecap="round"/>
<text transform="translate(1476.8,1052.1) scale(0.977,1.025)" xml:space="preserve">This study</text>
<text transform="translate(311.7,1181) scale(1,1.025)" text-anchor="middle">573</text>
<text transform="translate(521.0,1181) scale(1,1.025)" text-anchor="middle">873</text>
<text transform="translate(730.4,1181) scale(1,1.025)" text-anchor="middle">1173</text>
<text transform="translate(939.7,1181) scale(1,1.025)" text-anchor="middle">1473</text>
<text transform="translate(1149.0,1181) scale(1,1.025)" text-anchor="middle">1773</text>
<text transform="translate(1358.4,1181) scale(1,1.025)" text-anchor="middle">2073</text>
<text transform="translate(1567.7,1181) scale(1,1.025)" text-anchor="middle">2373</text>
<text transform="translate(1777.0,1181) scale(1,1.025)" text-anchor="middle">2673</text>
<text transform="translate(195.6,1122.0) scale(1,1.025)" text-anchor="end">0.0</text>
<text transform="translate(195.6,885.8) scale(1,1.025)" text-anchor="end">0.1</text>
<text transform="translate(195.6,649.5) scale(1,1.025)" text-anchor="end">0.2</text>
<text transform="translate(195.6,413.2) scale(1,1.025)" text-anchor="end">0.3</text>
<text transform="translate(195.6,177.0) scale(1,1.025)" text-anchor="end">0.4</text>
<text x="931.6" y="1269.8" style="font-style:italic">T</text>
<text transform="translate(985,1269.8) scale(0.96,1)">(K)</text>
<text transform="translate(76,570.6) rotate(-90)" text-anchor="middle" style="font-style:italic;font-size:86px">x</text>
</svg>
</body></html>
